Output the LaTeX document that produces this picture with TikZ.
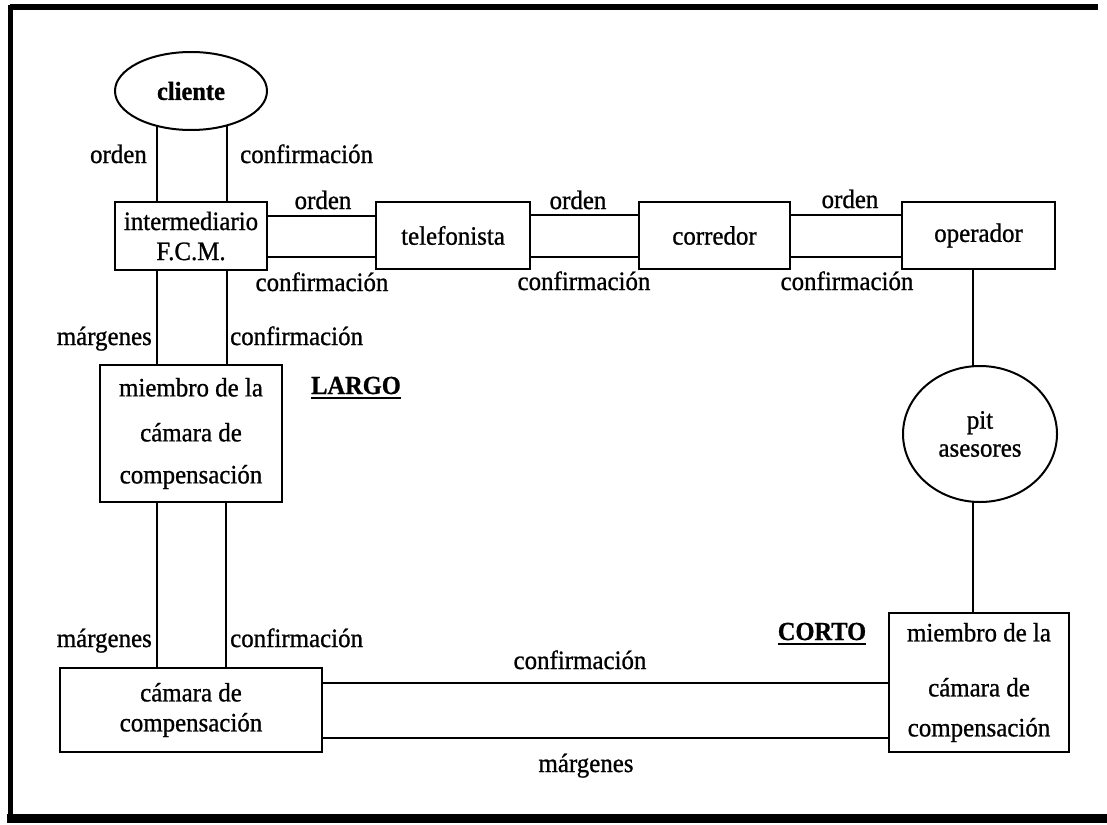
\documentclass[tikz,border=0pt]{standalone}
\usepackage{fontspec}
\setmainfont{Liberation Serif}[FakeBold=0.9, FakeStretch=0.94]
\usetikzlibrary{shapes.geometric,backgrounds}

\begin{document}
\begin{tikzpicture}[x=1pt,y=-1pt,
  every node/.style={font=\fontsize{26.5}{30}\selectfont, inner sep=0pt},
  box/.style={draw, line width=2pt, fill=white, align=center},
  oval/.style={draw, ellipse, line width=2pt, fill=white, align=center},
  link/.style={line width=2pt},
  heavy/.style={font=\bfseries\fontsize{26}{30}\selectfont}
]
\useasboundingbox (0,0) rectangle (1107,824);

% outer frame (open on the right)
\draw[line width=6pt] (10,7.5) -- (1098,7.5);
\draw[line width=5pt] (10,5) -- (10,818);
\draw[line width=9pt] (7,818) -- (1107,818);

% participants
\node[oval, heavy, minimum width=152pt, minimum height=78pt] (cliente) at (191,91) {cliente};
\node[box, minimum width=152pt, minimum height=68pt] (inter) at (191,236) {intermediario\\F.C.M.};
\node[box, minimum width=154pt, minimum height=67pt] (tel) at (453,235.5) {telefonista};
\node[box, minimum width=151pt, minimum height=67pt] (corr) at (714.5,235.5) {corredor};
\node[box, minimum width=153pt, minimum height=67pt] (oper) at (978.5,235.5) {operador};
\node[box, minimum width=182pt, minimum height=137pt] (miemL) at (191,433.5)
  {miembro de la\\[15pt]cámara de\\[12pt]compensación};
\node[oval, minimum width=154pt, minimum height=136pt] (pit) at (980,434) {pit\\[-2pt]asesores};
\node[box, minimum width=180pt, minimum height=139pt] (miemC) at (979,682.5)
  {miembro de la\\[25pt]cámara de\\[10pt]compensación};
\node[box, minimum width=262pt, minimum height=84pt] (camara) at (191,710) {cámara de\\compensación};

% flow labels
\node[anchor=base east] (o1) at (147,163) {orden};
\node[anchor=base west] (c1) at (240,163) {confirmación};
\node[anchor=base] (o2) at (323,209) {orden};
\node[anchor=base] (c2) at (322,291) {confirmación};
\node[anchor=base] (o3) at (578,209) {orden};
\node[anchor=base] (c3) at (584,290) {confirmación};
\node[anchor=base] (o4) at (850,208) {orden};
\node[anchor=base] (c4) at (847,290) {confirmación};
\node[anchor=base east] (m1) at (152,345) {márgenes};
\node[anchor=base west] (c5) at (230,345) {confirmación};
\node[anchor=base east] (m2) at (152,647) {márgenes};
\node[anchor=base west] (c6) at (230,647) {confirmación};
\node[anchor=base] (c7) at (580,669) {confirmación};
\node[anchor=base] (m3) at (586,772) {márgenes};

% position labels
\node[anchor=base, heavy] (largo) at (356,394) {LARGO};
\node[anchor=base, heavy] (corto) at (822,640) {CORTO};
\draw[line width=2pt] ([yshift=-4pt]largo.base west) -- ([yshift=-4pt]largo.base east);
\draw[line width=2pt] ([yshift=-4pt]corto.base west) -- ([yshift=-4pt]corto.base east);

% connectors
\begin{scope}[on background layer]
  \draw[link] ([xshift=-34pt]inter.north) -- ([xshift=-34pt]cliente.center);
  \draw[link] ([xshift=36pt]inter.north) -- ([xshift=36pt]cliente.center);
  \draw[link] ([xshift=-34pt]inter.south) -- ([xshift=-34pt]miemL.north);
  \draw[link] ([xshift=36pt]inter.south) -- ([xshift=36pt]miemL.north);
  \draw[link] ([xshift=-34pt]miemL.south) -- ([xshift=-34pt]camara.north);
  \draw[link] ([xshift=35pt]miemL.south) -- ([xshift=35pt]camara.north);

  \draw[link] ([yshift=20pt]inter.east) -- ([yshift=20pt]inter.east -| tel.west);
  \draw[link] ([yshift=-21pt]inter.east) -- ([yshift=-21pt]inter.east -| tel.west);
  \draw[link] ([yshift=21pt]tel.east) -- ([yshift=21pt]tel.east -| corr.west);
  \draw[link] ([yshift=-21pt]tel.east) -- ([yshift=-21pt]tel.east -| corr.west);
  \draw[link] ([yshift=21pt]corr.east) -- ([yshift=21pt]corr.east -| oper.west);
  \draw[link] ([yshift=-21pt]corr.east) -- ([yshift=-21pt]corr.east -| oper.west);

  \draw[link] ([xshift=-6pt]oper.south) -- ([xshift=-6pt]oper.south |- pit.center);
  \draw[link] ([xshift=-6pt]oper.south |- pit.center) -- ([xshift=-6pt]oper.south |- miemC.north);

  \draw[link] ([yshift=27pt]camara.east) -- ([yshift=27pt]camara.east -| miemC.west);
  \draw[link] ([yshift=-28pt]camara.east) -- ([yshift=-28pt]camara.east -| miemC.west);
\end{scope}
\end{tikzpicture}
\end{document}
